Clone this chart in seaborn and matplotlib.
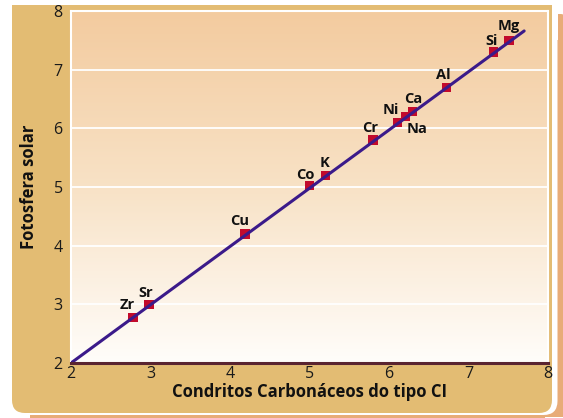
import numpy as np
import pandas as pd
import matplotlib
matplotlib.use("Agg")
import matplotlib.pyplot as plt
from matplotlib.patches import FancyBboxPatch, Rectangle
from matplotlib.colors import LinearSegmentedColormap
import seaborn as sns

# Data
elements = ["Zr", "Sr", "Cu", "Co", "K", "Cr", "Ni", "Na", "Ca", "Al", "Si", "Mg"]
condritos = [2.78, 2.98, 4.19, 5.00, 5.20, 5.80, 6.11, 6.21, 6.30, 6.72, 7.31, 7.51]
fotosfera = [2.78, 3.00, 4.20, 5.02, 5.19, 5.80, 6.10, 6.20, 6.29, 6.70, 7.30, 7.50]
line_x = [2.0, 7.7]
line_y = [2.0, 7.66]
x_ticks = [2, 3, 4, 5, 6, 7, 8]
y_ticks = [2, 3, 4, 5, 6, 7, 8]
# label offsets in points
label_offsets = {"Zr": (-4, 9), "Sr": (-2, 8), "Cu": (-4, 9), "Co": (-3, 8), "K": (-1, 9),
                 "Cr": (-2, 9), "Ni": (-5, 9), "Na": (8, -9), "Ca": (0, 9), "Al": (-2, 9),
                 "Si": (-1, 8), "Mg": (0, 10)}

df = pd.DataFrame({"x": condritos, "y": fotosfera, "el": elements})
dline = pd.DataFrame({"x": line_x, "y": line_y})

sns.set_style("white")
plt.rcParams["font.family"] = ["Open Sans", "DejaVu Sans"]

W, H = 563, 418
fig = plt.figure(figsize=(W / 100, H / 100), dpi=100)
fig.patch.set_facecolor("white")


def box(x0, y0, x1, y1, color, rs=12, z=0):
    # pixel coords, y from top
    p = FancyBboxPatch((x0 / W, 1 - y1 / H), (x1 - x0) / W, (y1 - y0) / H,
                       boxstyle=f"round,pad=0,rounding_size={rs / W}",
                       transform=fig.transFigure, facecolor=color,
                       edgecolor="none", zorder=z, mutation_aspect=W / H)
    fig.patches.append(p)


def rect(x0, y0, x1, y1, color, z=0):
    fig.patches.append(Rectangle((x0 / W, 1 - y1 / H), (x1 - x0) / W, (y1 - y0) / H,
                                 transform=fig.transFigure, facecolor=color,
                                 edgecolor="none", zorder=z))


tan = "#E3BC73"
peach = "#E8AC78"
box(30, 14, 572, 418 + 20, peach, rs=14, z=0)
box(30, 14, 572, 416.5, peach, rs=14, z=0)
rect(0, 417, W, H, "white", z=0.5)
rect(30, 415, 545, 418, peach, z=0.6)
box(12, 5, 557.5, 415, "white", rs=14, z=1)
rect(12, 5, 557.5, 40, "white", z=1)
box(12, 5, 552, 413, tan, rs=13, z=2)
rect(12, 5, 552, 40, tan, z=2)

ax = fig.add_axes([71 / W, 1 - 363 / H, (548 - 71) / W, (363 - 11) / H])
ax.set_zorder(3)

# gradient background
grad = np.linspace(0, 1, 256).reshape(-1, 1)
cmap = LinearSegmentedColormap.from_list("g", ["#FFFDFA", "#F8E2C6", "#F3CB9F"])
ax.imshow(grad, extent=[0, 1, 0, 1], transform=ax.transAxes, cmap=cmap,
          aspect="auto", origin="lower", zorder=0)

for yt in y_ticks[1:-1]:
    ax.axhline(yt, color="white", lw=1.3, zorder=1)

sns.lineplot(data=dline, x="x", y="y", ax=ax, color="#3B1A8A", lw=2.2, zorder=3)
sns.scatterplot(data=df, x="x", y="y", ax=ax, marker="s", s=44, color="#C20A2C",
                edgecolor="none", zorder=2)

for el, xv, yv in zip(elements, condritos, fotosfera):
    dx, dy = label_offsets[el]
    ax.annotate(el, (xv, yv), xytext=(dx, dy), textcoords="offset points",
                ha="center", va="center", fontsize=10.5, fontweight="bold",
                color="#111111", zorder=4)

ax.set_xlim(2, 8)
ax.set_ylim(2, 8)
ax.set_xticks(x_ticks)
ax.set_yticks(y_ticks)
ax.set_xticklabels([str(t) for t in x_ticks])
ax.set_yticklabels([str(t) for t in y_ticks])
ax.tick_params(axis="both", length=0, labelsize=11.5, colors="#1a1a1a")
ax.tick_params(axis="x", pad=2)
ax.tick_params(axis="y", pad=6)
ax.set_xlabel("Condritos Carbonáceos do tipo CI", fontsize=12, fontweight="bold",
              color="#111111", labelpad=1)
ax.set_ylabel("Fotosfera solar", fontsize=12, fontweight="bold", color="#111111",
              labelpad=11)

for s in ["left", "top", "right"]:
    ax.spines[s].set_color("white")
    ax.spines[s].set_linewidth(1.5)
ax.spines["bottom"].set_color("#5A2430")
ax.spines["bottom"].set_linewidth(2.2)
ax.spines["bottom"].set_zorder(5)

fig.savefig("out.png", dpi=100, facecolor=fig.get_facecolor())
